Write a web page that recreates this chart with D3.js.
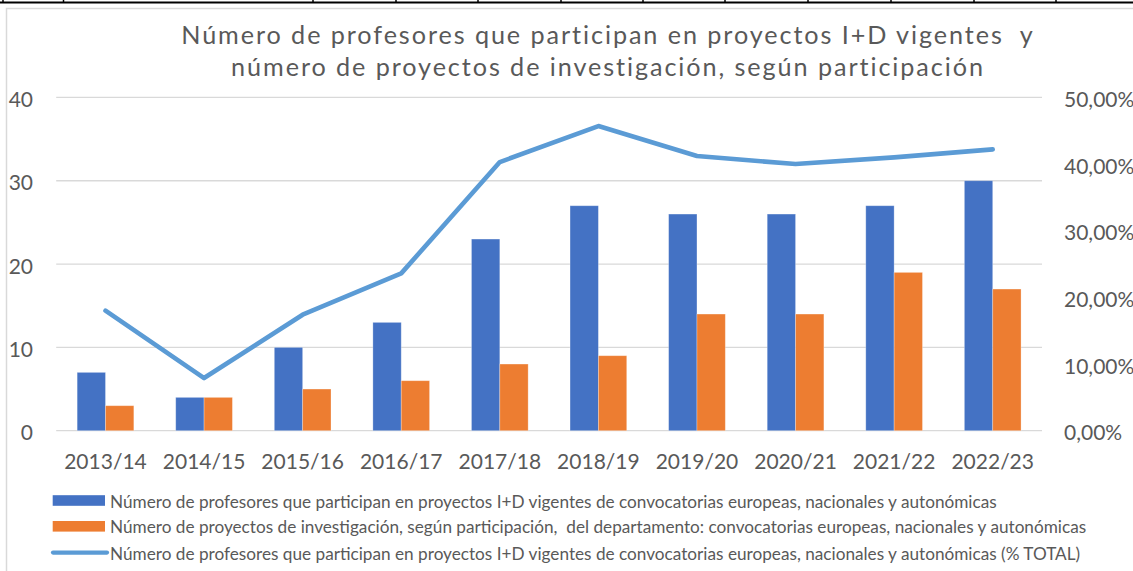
<!DOCTYPE html>
<html>
<head>
<meta charset="utf-8">
<script src="https://cdn.jsdelivr.net/npm/d3@7"></script>
<style>
  html, body { margin: 0; padding: 0; background: #ffffff; }
  svg { display: block; }
  text { font-family: Lato, "Open Sans", sans-serif; fill: #595959; white-space: pre; }
</style>
</head>
<body>
<svg id="chart" width="1133" height="571"></svg>
<script>
// ---- data ----
const categories = ["2013/14", "2014/15", "2015/16", "2016/17", "2017/18", "2018/19", "2019/20", "2020/21", "2021/22", "2022/23"];
const profesores = [7, 4, 10, 13, 23, 27, 26, 26, 27, 30];
const proyectos = [3, 4, 5, 6, 8, 9, 14, 14, 19, 17];
const porcentaje = [0.18, 0.079, 0.174, 0.236, 0.403, 0.457, 0.412, 0.40, 0.41, 0.422];
const leftTicks = [0, 10, 20, 30, 40];
const rightTicks = [0, 0.1, 0.2, 0.3, 0.4, 0.5];
const titleLines = [
  "Número de profesores que participan en proyectos I+D vigentes  y",
  "número de proyectos de investigación, según participación"
];
const legendLabels = [
  "Número de profesores que participan en proyectos I+D vigentes de convocatorias europeas, nacionales y autonómicas",
  "Número de proyectos de investigación, según participación,  del departamento: convocatorias europeas, nacionales y autonómicas",
  "Número de profesores que participan en proyectos I+D vigentes de convocatorias europeas, nacionales y autonómicas (% TOTAL)"
];

// ---- drawing ----
const svg = d3.select("#chart");
const colBlue = "#4472C4", colOrange = "#ED7D31", colLine = "#5B9BD5", colGrid = "#D9D9D9";

// spreadsheet cell borders above the chart
const cellEdges = [3, 63.5, 313, 396, 478, 561, 643, 725, 808, 891, 974, 1056];
svg.append("line").attr("x1", 0).attr("x2", 1133).attr("y1", 2.5).attr("y2", 2.5)
  .attr("stroke", "#000").attr("stroke-width", 2);
svg.selectAll("line.cell").data(cellEdges).join("line").attr("class", "cell")
  .attr("x1", d => d).attr("x2", d => d).attr("y1", 0).attr("y2", 3)
  .attr("stroke", "#000").attr("stroke-width", 1.5);

// chart frame
svg.append("rect").attr("x", 6.5).attr("y", 8.5).attr("width", 1140).attr("height", 580)
  .attr("fill", "#fff").attr("stroke", colGrid).attr("stroke-width", 1.5);

const x = d3.scaleBand().domain(categories).range([56.2, 1042]).padding(0);
const yL = d3.scaleLinear().domain([0, 40]).range([430.7, 97.4]);
const yR = d3.scaleLinear().domain([0, 0.5]).range([430.7, 97.4]);
const barW = x.bandwidth() * 0.2875;

// gridlines
svg.append("g").selectAll("line").data(leftTicks).join("line")
  .attr("x1", x.range()[0]).attr("x2", x.range()[1])
  .attr("y1", d => yL(d)).attr("y2", d => yL(d))
  .attr("stroke", colGrid).attr("stroke-width", 1.3);

// left axis labels
svg.append("g").selectAll("text").data(leftTicks).join("text")
  .attr("x", 33).attr("y", d => yL(d) + 1)
  .attr("text-anchor", "end").attr("dominant-baseline", "central")
  .attr("font-size", 21).text(d => d);

// right axis labels
const pctFmt = d => d3.format(".2f")(d * 100).replace(".", ",") + "%";
svg.append("g").selectAll("text").data(rightTicks).join("text")
  .attr("x", 1064).attr("y", d => yR(d) + 1)
  .attr("text-anchor", "start").attr("dominant-baseline", "central")
  .attr("font-size", 21).text(pctFmt);

// x axis labels
svg.append("g").selectAll("text").data(categories).join("text")
  .attr("x", d => x(d) + x.bandwidth() / 2).attr("y", 469)
  .attr("text-anchor", "middle").attr("font-size", 21).text(d => d);

// bars
const cx = d => x(d) + x.bandwidth() / 2;
svg.append("g").selectAll("rect").data(categories).join("rect")
  .attr("x", d => cx(d) - barW).attr("width", barW)
  .attr("y", (d, i) => yL(profesores[i])).attr("height", (d, i) => yL(0) - yL(profesores[i]))
  .attr("fill", colBlue).attr("stroke", "#ffffff").attr("stroke-opacity", 0.35).attr("stroke-width", 0.8);
svg.append("g").selectAll("rect").data(categories).join("rect")
  .attr("x", d => cx(d)).attr("width", barW)
  .attr("y", (d, i) => yL(proyectos[i])).attr("height", (d, i) => yL(0) - yL(proyectos[i]))
  .attr("fill", colOrange).attr("stroke", "#ffffff").attr("stroke-opacity", 0.35).attr("stroke-width", 0.8);

// line
const line = d3.line().x((d, i) => cx(categories[i])).y(d => yR(d));
svg.append("path").datum(porcentaje).attr("d", line)
  .attr("fill", "none").attr("stroke", colLine).attr("stroke-width", 4.6)
  .attr("stroke-linejoin", "round").attr("stroke-linecap", "round");

// title (fitted to reference width using light letter spacing)
const titleSize = 25.2;
const t1 = svg.append("text").attr("font-size", titleSize).text(titleLines[0]);
const w1 = t1.node().getComputedTextLength();
t1.remove();
const titleSpacing = (854 - w1) / titleLines[0].length;
svg.append("g").selectAll("text").data(titleLines).join("text")
  .attr("x", 608).attr("y", (d, i) => 44 + i * 31.5)
  .attr("text-anchor", "middle").attr("font-size", titleSize)
  .attr("letter-spacing", titleSpacing).text(d => d);

// legend
const lg = svg.append("g");
const rowY = [500.5, 526.3, 552.6];
const tmp = lg.append("text").attr("font-size", 100).text(legendLabels[0]);
const lw = tmp.node().getComputedTextLength();
tmp.remove();
const legendSize = 100 * 887 / lw;
lg.append("rect").attr("x", 52.7).attr("y", rowY[0] - 5.3).attr("width", 52.3).attr("height", 10.6).attr("fill", colBlue);
lg.append("rect").attr("x", 52.7).attr("y", rowY[1] - 5.3).attr("width", 52.3).attr("height", 10.6).attr("fill", colOrange);
lg.append("line").attr("x1", 53).attr("x2", 107).attr("y1", rowY[2]).attr("y2", rowY[2])
  .attr("stroke", colLine).attr("stroke-width", 4.2).attr("stroke-linecap", "round");
lg.selectAll("text").data(legendLabels).join("text")
  .attr("x", 110).attr("y", (d, i) => rowY[i] + 0.5)
  .attr("dominant-baseline", "central").attr("font-size", legendSize).text(d => d);
</script>
</body>
</html>
